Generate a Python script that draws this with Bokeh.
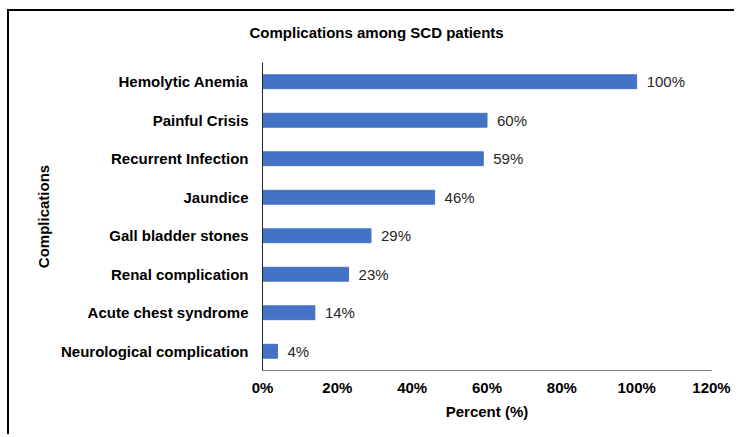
from bokeh.plotting import figure
from bokeh.models import ColumnDataSource, LabelSet, FixedTicker, Range1d, FactorRange, Title
from bokeh.core.properties import value
from bokeh.embed import file_html
from bokeh.resources import INLINE

title_text = "Complications among SCD patients"
categories = ["Hemolytic Anemia", "Painful Crisis", "Recurrent Infection", "Jaundice",
              "Gall bladder stones", "Renal complication", "Acute chest syndrome",
              "Neurological complication"]
percents = [100, 60, 59, 46, 29, 23, 14, 4]
value_labels = ["100%", "60%", "59%", "46%", "29%", "23%", "14%", "4%"]
x_ticks = [0, 20, 40, 60, 80, 100, 120]
x_tick_labels = ["0%", "20%", "40%", "60%", "80%", "100%", "120%"]
x_title = "Percent (%)"
y_title = "Complications"

FONT = "Liberation Sans"
BAR = "#4472C4"
FS = "15px"

src = ColumnDataSource(dict(cat=categories, pct=percents, lab=value_labels))

W, H = 727, 425
p = figure(width=W, height=H, output_backend="svg", toolbar_location=None, title=None,
           y_range=FactorRange(factors=list(reversed(categories)), range_padding=0),
           x_range=Range1d(0, 120),
           min_border_left=253, min_border_right=W - 702, min_border_top=51,
           min_border_bottom=H - 359)
p.styles = {"margin-left": "7px", "margin-top": "9px",
            "border-top": "2px solid #000", "border-left": "2px solid #000"}

p.hbar(y="cat", right="pct", left=0, height=0.36, color=BAR, source=src)

labels = LabelSet(x="pct", y="cat", text="lab", source=src, x_offset=10,
                  text_baseline="middle", text_font=value(FONT), text_font_size=FS,
                  text_color="#262626")
p.add_layout(labels)

spacer = Title(text=" ", text_font_size="2px", standoff=16)
main_title = Title(text=title_text, align="left", offset=-13, standoff=4,
                   vertical_align="bottom", text_font=FONT, text_font_size=FS,
                   text_font_style="bold", text_color="#000000")
p.add_layout(spacer, "above")
p.add_layout(main_title, "above")

p.xgrid.visible = False
p.ygrid.visible = False
p.outline_line_color = None

xa = p.xaxis[0]
xa.ticker = FixedTicker(ticks=x_ticks)
xa.major_label_overrides = {v: s for v, s in zip(x_ticks, x_tick_labels)}
xa.major_tick_line_color = None
xa.minor_tick_line_color = None
xa.major_tick_out = 0
xa.major_label_standoff = 8
xa.axis_line_color = "#808080"
xa.major_label_text_font = FONT
xa.major_label_text_font_size = FS
xa.major_label_text_font_style = "bold"
xa.major_label_text_color = "#000000"
xa.axis_label = x_title
xa.axis_label_text_font = FONT
xa.axis_label_text_font_size = FS
xa.axis_label_text_font_style = "bold"
xa.axis_label_text_color = "#000000"
xa.axis_label_standoff = 4

ya = p.yaxis[0]
ya.major_tick_line_color = None
ya.minor_tick_line_color = None
ya.major_tick_out = 0
ya.major_label_standoff = 14
ya.axis_line_color = "#262626"
ya.major_label_text_font = FONT
ya.major_label_text_font_size = FS
ya.major_label_text_font_style = "bold"
ya.major_label_text_color = "#000000"
ya.axis_label = y_title
ya.axis_label_text_font = FONT
ya.axis_label_text_font_size = FS
ya.axis_label_text_font_style = "bold"
ya.axis_label_text_color = "#000000"
ya.axis_label_standoff = 6

open("out.html", "w").write(file_html(p, INLINE))
